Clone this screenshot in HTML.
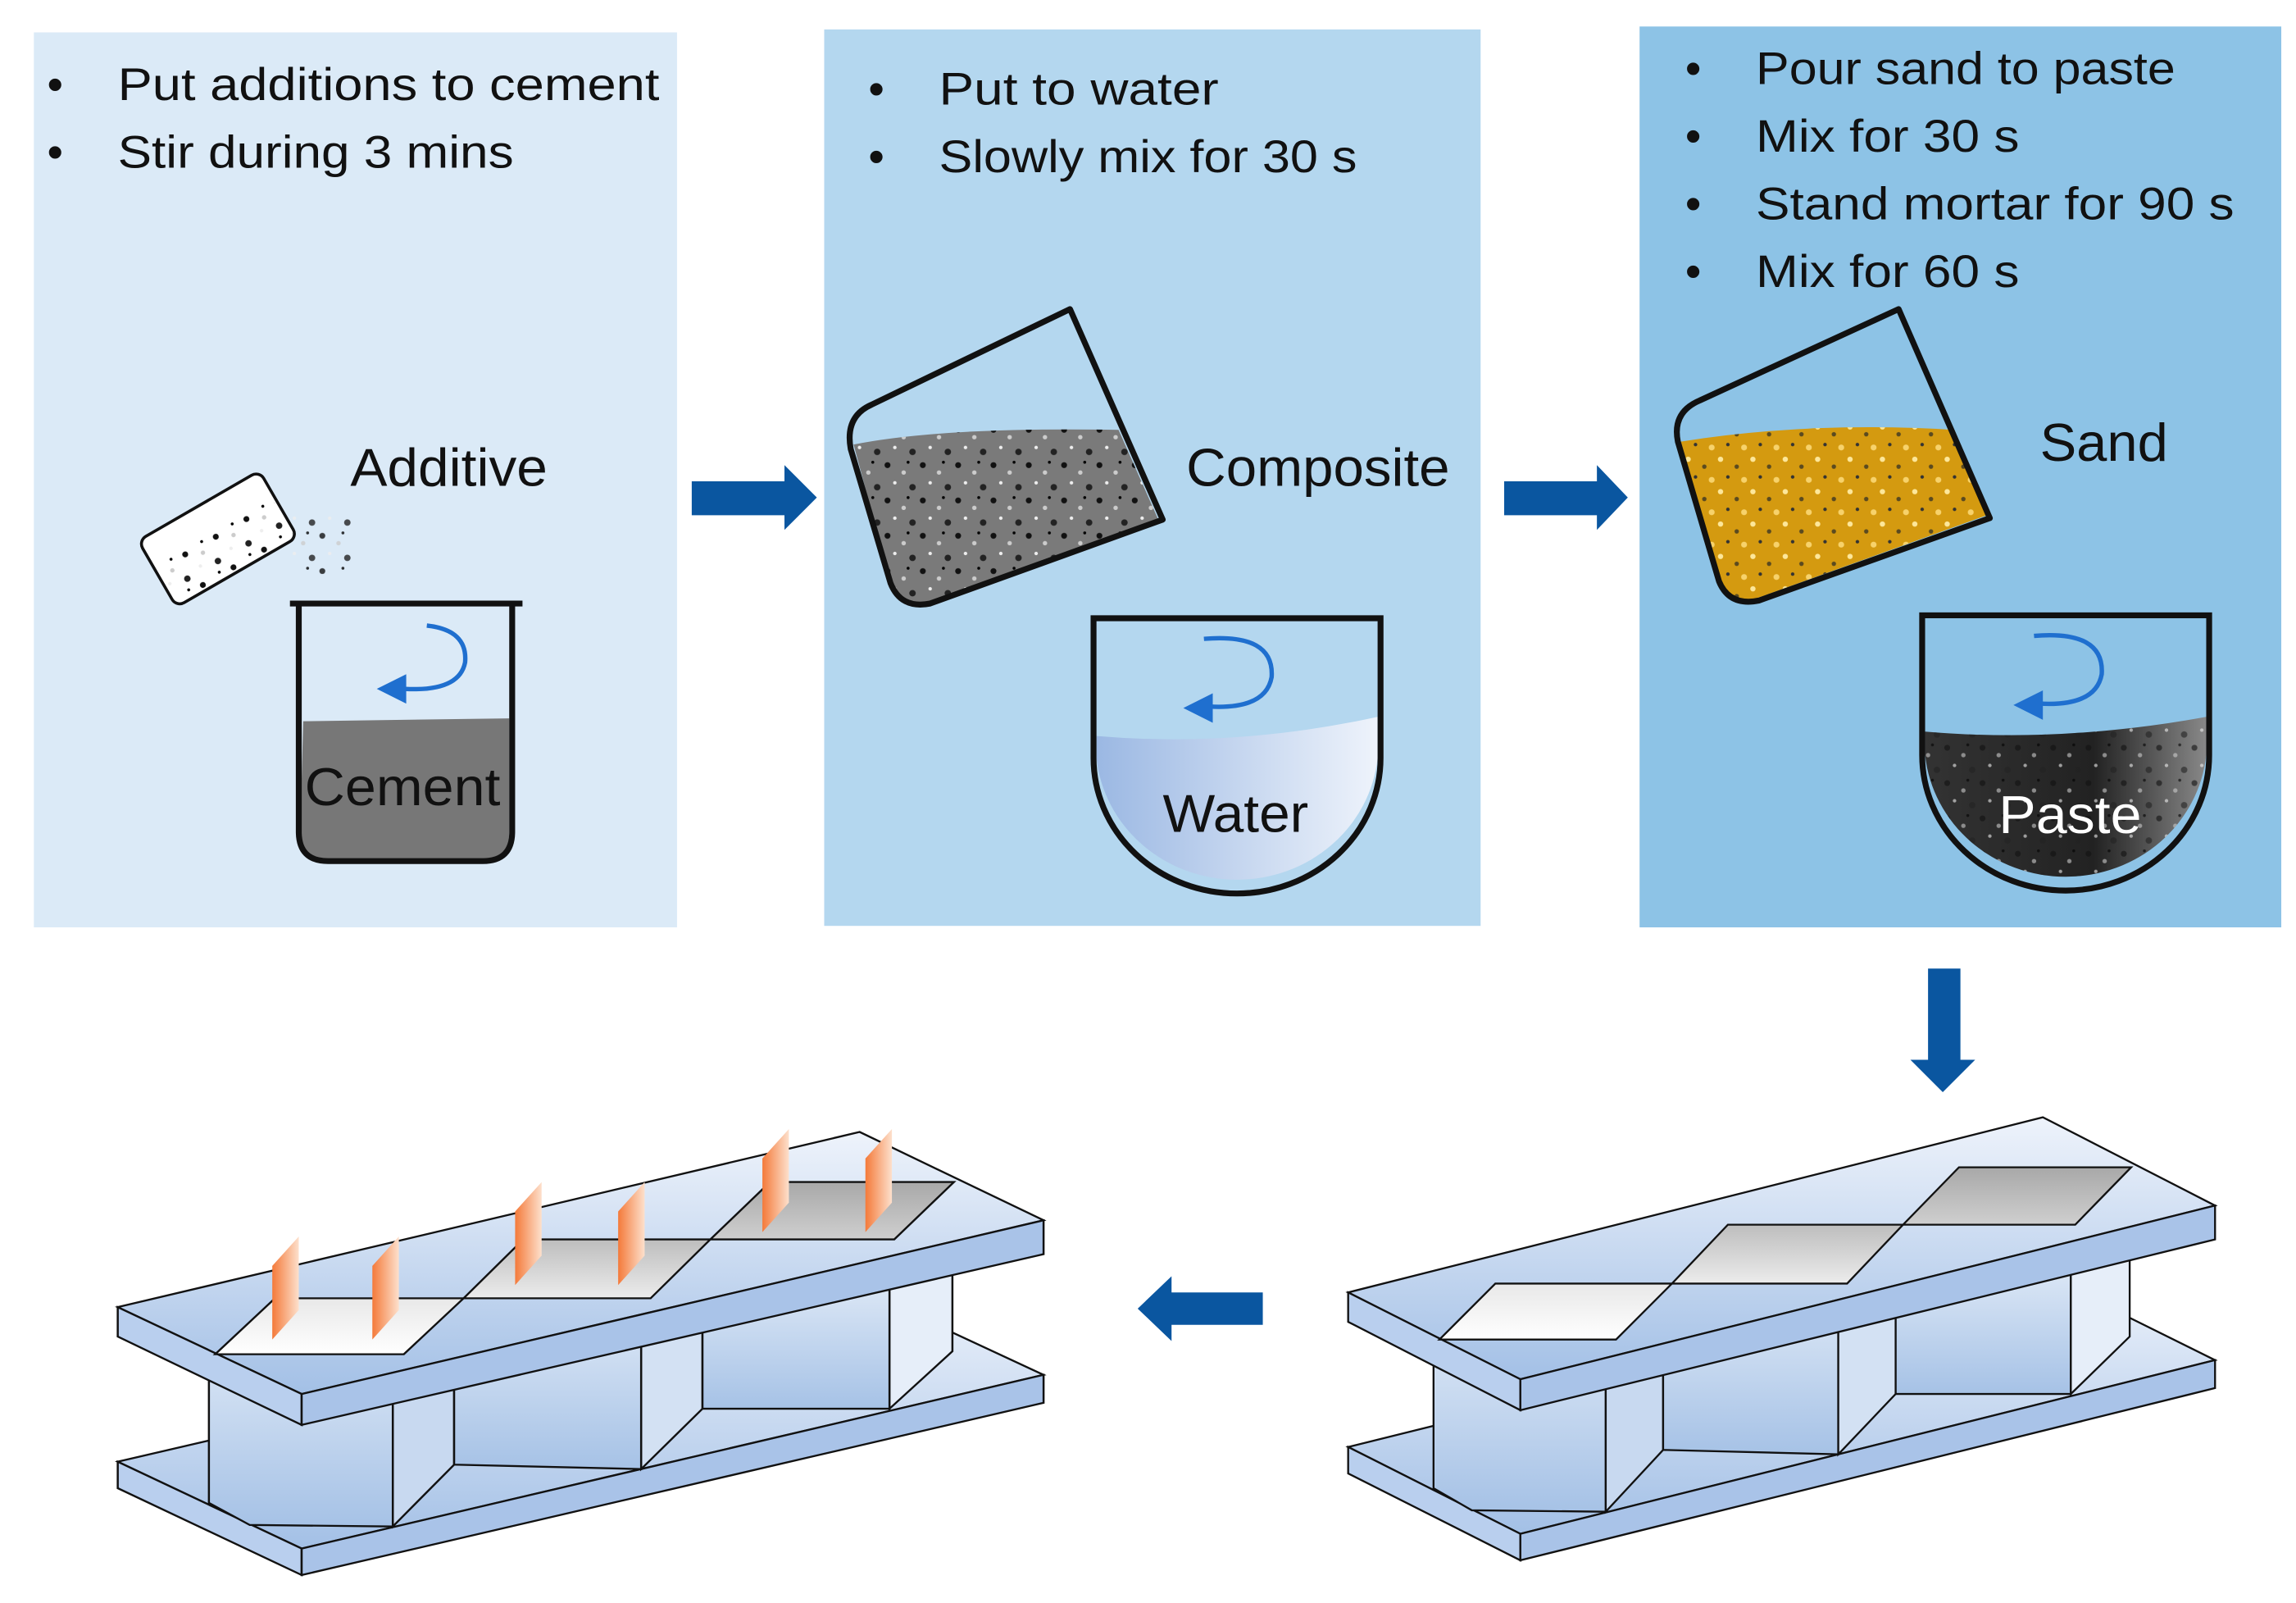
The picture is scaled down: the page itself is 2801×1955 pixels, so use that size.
<!DOCTYPE html>
<html><head><meta charset="utf-8"><style>html,body{margin:0;padding:0;background:#fff}svg{display:block}</style></head>
<body>
<svg width="2801" height="1955" viewBox="0 0 1560 1089" preserveAspectRatio="none" xmlns="http://www.w3.org/2000/svg" font-family="Liberation Sans, sans-serif">
<defs>
<pattern id="dots" width="24" height="24" patternUnits="userSpaceOnUse">
<circle cx="3" cy="4" r="2" fill="#111"/><circle cx="14" cy="9" r="1.5" fill="#ccc"/><circle cx="20" cy="19" r="2.2" fill="#222"/><circle cx="8" cy="16" r="1.2" fill="#eee"/><circle cx="17" cy="2" r="1" fill="#000"/></pattern>
<pattern id="sdots" width="22" height="22" patternUnits="userSpaceOnUse">
<circle cx="3" cy="4" r="1.8" fill="#fde79a"/><circle cx="14" cy="9" r="1.5" fill="#5a4a20"/><circle cx="19" cy="18" r="2" fill="#f7d26b"/><circle cx="8" cy="16" r="1.2" fill="#333"/></pattern>
<linearGradient id="wat" x1="0" x2="1"><stop offset="0" stop-color="#9bb8e3"/><stop offset="1" stop-color="#eef3fb"/></linearGradient>
<linearGradient id="pst" x1="0" x2="1"><stop offset="0" stop-color="#333"/><stop offset="0.6" stop-color="#222"/><stop offset="1" stop-color="#888"/></linearGradient>
<linearGradient id="plate" x1="0" y1="0" x2="0" y2="1"><stop offset="0" stop-color="#eef3fb"/><stop offset="1" stop-color="#a3c0e6"/></linearGradient>
<linearGradient id="wall" x1="0" y1="0" x2="0" y2="1"><stop offset="0" stop-color="#dde8f6"/><stop offset="1" stop-color="#a6c2e6"/></linearGradient>
<linearGradient id="g1" x1="0" y1="0" x2="0" y2="1"><stop offset="0" stop-color="#e8e8e8"/><stop offset="1" stop-color="#fff"/></linearGradient>
<linearGradient id="g2" x1="0" y1="0" x2="0" y2="1"><stop offset="0" stop-color="#bdbdbd"/><stop offset="1" stop-color="#ececec"/></linearGradient>
<linearGradient id="g3" x1="0" y1="0" x2="0" y2="1"><stop offset="0" stop-color="#a8a8a8"/><stop offset="1" stop-color="#cfcfcf"/></linearGradient>
<linearGradient id="fl" x1="0" y1="0" x2="1" y2="0"><stop offset="0" stop-color="#f47a3a"/><stop offset="1" stop-color="#fde0cc"/></linearGradient>
<g id="mold" stroke="#111" stroke-width="1.3">
 <polygon points="916,983 1388,866 1505,924 1033,1042" fill="url(#plate)"/>
 <polygon points="916,983 1033,1042 1033,1060 916,1001" fill="#b9cfee"/>
 <polygon points="1033,1042 1505,924 1505,943 1033,1060" fill="#a9c3e8"/>
 <polygon points="974,900 1091,900 1091,1027 1000,1026 974,1011" fill="url(#wall)"/>
 <polygon points="1091,900 1130,880 1130,985 1091,1027" fill="#c8d9f0"/>
 <polygon points="1130,880 1249,880 1249,988 1130,985" fill="url(#wall)"/>
 <polygon points="1249,880 1288,860 1288,947 1249,988" fill="#d3e1f3"/>
 <polygon points="1288,860 1407,860 1407,947 1288,947" fill="url(#wall)"/>
 <polygon points="1407,830 1447,815 1447,908 1407,947" fill="#e6eef9"/>
 <polygon points="916,878 1388,759 1505,819 1033,937" fill="url(#plate)"/>
 <polygon points="916,878 1033,937 1033,958 916,898" fill="#b9cfee"/>
 <polygon points="1033,937 1505,819 1505,842 1033,958" fill="#a9c3e8"/>
 <polygon points="978,910 1016,872 1136,872 1098,910" fill="url(#g1)"/>
 <polygon points="1136,872 1174,832 1293,832 1255,872" fill="url(#g2)"/>
 <polygon points="1293,832 1331,793 1448,793 1410,832" fill="url(#g3)"/>
</g>
</defs>
<rect width="1560" height="1089" fill="#fff"/>
<rect x="23" y="22" width="437" height="608" fill="#dbeaf7"/>
<rect x="560" y="20" width="446" height="609" fill="#b4d7ef"/>
<rect x="1114" y="18" width="436" height="612" fill="#8dc3e6"/>
<g font-size="31" fill="#111" lengthAdjust="spacingAndGlyphs">
<text x="32" y="68">•</text><text x="80" y="68" textLength="368" lengthAdjust="spacingAndGlyphs">Put additions to cement</text>
<text x="32" y="114">•</text><text x="80" y="114" textLength="269" lengthAdjust="spacingAndGlyphs">Stir during 3 mins</text>
<text x="590" y="71">•</text><text x="638" y="71" textLength="190" lengthAdjust="spacingAndGlyphs">Put to water</text>
<text x="590" y="117">•</text><text x="638" y="117" textLength="284" lengthAdjust="spacingAndGlyphs">Slowly mix for 30 s</text>
<text x="1145" y="57">•</text><text x="1193" y="57" textLength="285" lengthAdjust="spacingAndGlyphs">Pour sand to paste</text>
<text x="1145" y="103">•</text><text x="1193" y="103" textLength="179" lengthAdjust="spacingAndGlyphs">Mix for 30 s</text>
<text x="1145" y="149">•</text><text x="1193" y="149" textLength="325" lengthAdjust="spacingAndGlyphs">Stand mortar for 90 s</text>
<text x="1145" y="195">•</text><text x="1193" y="195" textLength="179" lengthAdjust="spacingAndGlyphs">Mix for 60 s</text>
</g>
<g font-size="36" fill="#111">
<text x="238" y="330" textLength="134" lengthAdjust="spacingAndGlyphs">Additive</text>
<text x="806" y="330" textLength="179" lengthAdjust="spacingAndGlyphs">Composite</text>
<text x="1386" y="313" textLength="87" lengthAdjust="spacingAndGlyphs">Sand</text>
</g>
<g fill="#0a56a0">
<polygon points="470,327 533,327 533,316 555,338 533,360 533,350 470,350"/>
<polygon points="1022,327 1085,327 1085,316 1106,338 1085,360 1085,350 1022,350"/>
<polygon points="1310,658 1332,658 1332,720 1342,720 1320,742 1298,720 1310,720"/>
<polygon points="858,878 796,878 796,867 773,889 796,911 796,900 858,900"/>
</g>
<g transform="rotate(-30 148 365)">
<rect x="100" y="340" width="95" height="52" rx="6" fill="#fff" stroke="#111" stroke-width="2"/>
<rect x="102" y="360" width="91" height="30" fill="url(#dots)"/>
</g>
<rect x="198" y="350" width="42" height="40" fill="url(#dots)" opacity="0.8"/>
<path d="M206,490 L346,488 L346,565 Q346,585 326,585 L222,585 Q204,585 204,565 Z" fill="#777"/>
<path d="M197,410 L355,410 M203,410 L203,565 Q203,585 223,585 L328,585 Q348,585 348,565 L348,410" fill="none" stroke="#111" stroke-width="4"/>
<path d="M290,425 Q318,428 316,450 Q312,470 275,468" fill="none" stroke="#1f6fcf" stroke-width="3"/>
<polygon points="256,468 276,458 276,478" fill="#1f6fcf"/>
<text x="207" y="547" font-size="36" fill="#111" textLength="133" lengthAdjust="spacingAndGlyphs">Cement</text>
<path d="M580,302 Q640,290 760,292 L787,353 L630,410 Q612,412 605,395 Z" fill="#7a7a7a"/>
<path d="M580,302 Q640,290 760,292 L787,353 L630,410 Q612,412 605,395 Z" fill="url(#dots)"/>
<path d="M727,210 L790,353 L632,410 Q612,414 605,396 L578,305 Q574,283 592,275 Z" fill="none" stroke="#111" stroke-width="4" stroke-linejoin="round"/>
<path d="M745,500 Q840,508 936,487 L936,515 A96,92 0 0 1 745,515 Z" fill="url(#wat)"/>
<path d="M743,420 L938,420 L938,515 A97.5,92 0 0 1 743,515 Z" fill="none" stroke="#111" stroke-width="4"/>
<path d="M818,434 Q866,430 864,460 Q860,482 822,480" fill="none" stroke="#1f6fcf" stroke-width="3"/>
<polygon points="804,481 824,471 824,491" fill="#1f6fcf"/>
<text x="790" y="565" font-size="36" fill="#111" textLength="99" lengthAdjust="spacingAndGlyphs">Water</text>
<path d="M1142,300 Q1230,286 1328,292 L1350,350 L1192,407 Q1175,410 1168,395 Z" fill="#d49a10"/>
<path d="M1142,300 Q1230,286 1328,292 L1350,350 L1192,407 Q1175,410 1168,395 Z" fill="url(#sdots)"/>
<path d="M1290,210 L1352,352 L1195,408 Q1175,412 1168,395 L1140,300 Q1136,280 1155,272 Z" fill="none" stroke="#111" stroke-width="4" stroke-linejoin="round"/>
<path d="M1308,497 Q1400,505 1499,487 L1499,513 A96,92 0 0 1 1308,513 Z" fill="url(#pst)"/>
<path d="M1308,497 Q1400,505 1499,487 L1499,513 A96,92 0 0 1 1308,513 Z" fill="url(#dots)" opacity="0.6"/>
<path d="M1306,418 L1501,418 L1501,513 A97.5,92 0 0 1 1306,513 Z" fill="none" stroke="#111" stroke-width="4"/>
<path d="M1382,432 Q1430,428 1428,458 Q1424,480 1386,478" fill="none" stroke="#1f6fcf" stroke-width="3"/>
<polygon points="1368,479 1388,469 1388,489" fill="#1f6fcf"/>
<text x="1358" y="566" font-size="36" fill="#fff" textLength="97" lengthAdjust="spacingAndGlyphs">Paste</text>
<use href="#mold"/>
<use href="#mold" transform="translate(80,10) scale(1.068,1) translate(-916,0)"/>
<g fill="url(#fl)">
<polygon points="185,860 203,840 203,890 185,910"/>
<polygon points="253,860 271,840 271,890 253,910"/>
<polygon points="350,823 368,803 368,853 350,873"/>
<polygon points="420,823 438,803 438,853 420,873"/>
<polygon points="518,787 536,767 536,817 518,837"/>
<polygon points="588,787 606,767 606,817 588,837"/>
</g>
</svg>
</body></html>
